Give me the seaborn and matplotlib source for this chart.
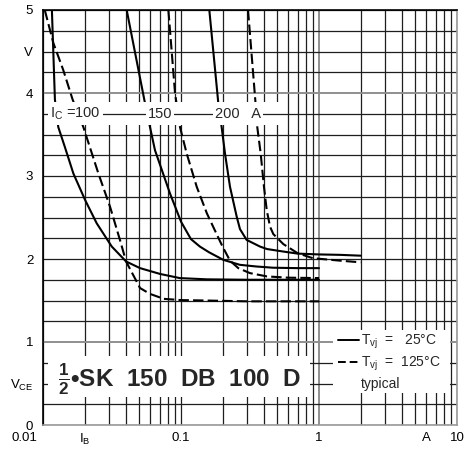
import matplotlib
matplotlib.use("Agg")
import matplotlib.pyplot as plt
from matplotlib.lines import Line2D
from matplotlib.patches import Rectangle
from matplotlib.ticker import NullLocator
from matplotlib.transforms import ScaledTranslation
import pandas as pd
import seaborn as sns

# V_CE = f(I_B), one curve per collector current and junction temperature
ib_100_25 = [0.0116, 0.0122, 0.0129, 0.0144, 0.0166, 0.0202, 0.0245, 0.0315, 0.040,
             0.0505, 0.0705, 0.098, 0.154, 0.30, 0.60, 1.0]
vce_100_25 = [5.00, 3.92, 3.59, 3.35, 3.03, 2.71, 2.43, 2.15, 1.97,
              1.89, 1.82, 1.77, 1.755, 1.75, 1.75, 1.75]

ib_100_125 = [0.0103, 0.0119, 0.0140, 0.0164, 0.0196, 0.0252, 0.0306, 0.0361, 0.040,
              0.0505, 0.0595, 0.075, 0.10, 0.15, 0.30, 0.60, 1.0]
vce_100_125 = [5.00, 4.60, 4.28, 3.92, 3.59, 3.03, 2.63, 2.23, 1.97,
               1.65, 1.58, 1.52, 1.505, 1.50, 1.49, 1.49, 1.49]

ib_150_25 = [0.0404, 0.0548, 0.0596, 0.0648, 0.0832, 0.100, 0.118, 0.137, 0.16,
             0.2025, 0.267, 0.35, 0.464, 0.70, 1.0]
vce_150_25 = [5.00, 3.88, 3.59, 3.31, 2.79, 2.45, 2.24, 2.15, 2.08,
              1.99, 1.93, 1.91, 1.895, 1.89, 1.89]

ib_150_125 = [0.081, 0.0905, 0.0983, 0.110, 0.130, 0.154, 0.18, 0.20, 0.2265,
              0.26, 0.316, 0.42, 0.60, 1.0]
vce_150_125 = [5.00, 4.00, 3.59, 3.27, 2.87, 2.55, 2.31, 2.15, 1.98,
               1.89, 1.83, 1.79, 1.775, 1.77]

ib_200_25 = [0.1604, 0.1863, 0.197, 0.2084, 0.2265, 0.2533, 0.2676, 0.299, 0.3735,
             0.42, 0.55, 0.70, 1.0, 1.42, 2.0]
vce_200_25 = [5.00, 3.88, 3.59, 3.27, 2.87, 2.51, 2.36, 2.23, 2.15,
              2.12, 2.09, 2.065, 2.055, 2.05, 2.04]

ib_200_125 = [0.306, 0.3467, 0.357, 0.378, 0.3993, 0.418, 0.4416, 0.4667, 0.5215,
              0.551, 0.70, 0.90, 1.42, 2.0]
vce_200_125 = [5.00, 3.88, 3.59, 3.27, 2.87, 2.59, 2.39, 2.30, 2.22,
               2.18, 2.07, 2.01, 1.98, 1.96]

ic_labels = ["100", "150", "200   A"]
temps = ["25", "125"]

x_ticks = [0.01, 0.02, 0.1, 1, 6, 10]
x_ticklabels = ["0.01", r"$\mathregular{I_B}$", "0.1", "1", "A", "10"]
y_ticks = [0, 0.5, 1, 2, 3, 4, 4.5, 5]
y_ticklabels = ["0", r"$\mathregular{V_{CE}}$", "1", "2", "3", "4", "V", "5"]

x_grid = [m * 10.0 ** e for e in (-2, -1, 0) for m in range(1, 10)] + [10.0]
y_grid = [i * 0.25 for i in range(0, 21)]

curves = [
    (ib_100_25, vce_100_25, 100, "25"),
    (ib_100_125, vce_100_125, 100, "125"),
    (ib_150_25, vce_150_25, 150, "25"),
    (ib_150_125, vce_150_125, 150, "125"),
    (ib_200_25, vce_200_25, 200, "25"),
    (ib_200_125, vce_200_125, 200, "125"),
]
df = pd.concat(
    [pd.DataFrame({"IB": ib, "VCE": v, "IC": ic, "Tvj": t}) for ib, v, ic, t in curves],
    ignore_index=True,
)

sns.set_theme(style="white")
plt.rcParams["font.family"] = ["Liberation Sans", "DejaVu Sans"]
plt.rcParams["mathtext.fontset"] = "custom"
plt.rcParams["mathtext.rm"] = "Liberation Sans"
plt.rcParams["mathtext.it"] = "Liberation Sans:italic"
plt.rcParams["mathtext.bf"] = "Liberation Sans:bold"

fig = plt.figure(figsize=(4.68, 4.49), dpi=100)
ax = fig.add_axes([43 / 468, 24 / 449, 414 / 468, 415 / 449])
ax.set_xscale("log")
ax.set_xlim(0.01, 10)
ax.set_ylim(0, 5)

# chart-paper grid
light_x = {1.0}
light_y = {1.0, 4.0}
for g in x_grid:
    if g in light_x:
        ax.axvline(g, color="#8f8f8f", lw=1.4, zorder=1)
    else:
        ax.axvline(g, color="#1e1e1e", lw=0.9, zorder=1)
for g in y_grid:
    if g in light_y:
        ax.axhline(g, color="#8f8f8f", lw=1.4, zorder=1)
    elif g == 3.75:
        ax.axhline(g, color="#1e1e1e", lw=0.9, zorder=4.5)
    else:
        ax.axhline(g, color="#1e1e1e", lw=0.9, zorder=1)

sns.lineplot(
    data=df, x="IB", y="VCE", units="IC", estimator=None, sort=False,
    style="Tvj", style_order=temps, dashes={"25": "", "125": (5, 2)},
    color="black", lw=1.5, legend=False, ax=ax, zorder=3,
)

# white fields cut out of the grid for the annotations
ax.add_patch(Rectangle((0.0103, 3.61), 0.56 - 0.0103, 0.28, fc="white", ec="none", zorder=4))
ax.add_patch(Rectangle((0.01087, 0.337), 0.861 - 0.01087, 0.494, fc="white", ec="none", zorder=4))
ax.add_patch(Rectangle((1.26, 0.386), 8.89 - 1.26, 0.76, fc="white", ec="none", zorder=4))

lab_kw = dict(fontsize=10.5, va="center", zorder=6,
              bbox=dict(fc="white", ec="none", pad=1.5))
ax.text(0.01124, 3.75, r"$\mathregular{I_C}$ =" + ic_labels[0], ha="left", **lab_kw)
ax.text(0.0705, 3.75, ic_labels[1], ha="center", **lab_kw)
ax.text(0.1764, 3.75, ic_labels[2], ha="left", **lab_kw)

ax.text(0.0128, 0.55, r"$\mathbf{\frac{1}{2}}$•SK  150  DB  100  D",
        fontsize=17.5, fontweight="bold", ha="left", va="center", zorder=6)

handles = [
    Line2D([], [], color="black", lw=1.4),
    Line2D([], [], color="black", lw=1.4, ls=(0, (4, 2))),
    Line2D([], [], color="none"),
]
leg_labels = [r"$\mathregular{T_{vj}}$  =   25°C", r"$\mathregular{T_{vj}}$  =  125°C", "typical"]
leg = ax.legend(handles, leg_labels, loc="upper left",
                bbox_to_anchor=((338 - 43) / 414, (425 - 333) / 415),
                frameon=False, fontsize=10, handlelength=1.5, handletextpad=0.15,
                labelspacing=0.25, borderaxespad=0, borderpad=0)
leg.set_zorder(7)

ax.set_xticks(x_ticks)
ax.set_xticklabels(x_ticklabels)
ax.xaxis.set_minor_locator(NullLocator())
ax.set_yticks(y_ticks)
ax.set_yticklabels(y_ticklabels)
ax.tick_params(axis="both", length=0, labelsize=9.5, colors="black")
ax.tick_params(axis="x", pad=5)
ax.tick_params(axis="y", pad=7)
first = ax.get_xticklabels()[0]
first.set_horizontalalignment("right")
first.set_transform(first.get_transform() + ScaledTranslation(-4 / 72, 0, fig.dpi_scale_trans))
ax.set_xlabel("")
ax.set_ylabel("")

for side in ("left", "top"):
    ax.spines[side].set_color("black")
    ax.spines[side].set_linewidth(1.2)
for side in ("right", "bottom"):
    ax.spines[side].set_color("#9a9a9a")
    ax.spines[side].set_linewidth(1.2)
for s in ax.spines.values():
    s.set_zorder(8)

fig.savefig("out.png", dpi=100, facecolor="white")
